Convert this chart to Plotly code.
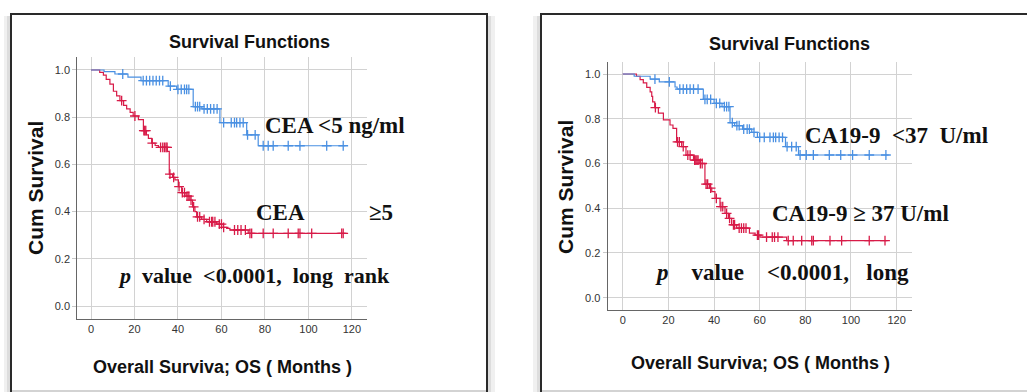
import numpy as np
import plotly.graph_objects as go

W, H = 1027, 392

# ---------------- data ----------------
# Left panel: CEA
cea_low_t = [0, 6, 11, 17, 23, 35.5, 39.4, 47, 51, 59.3, 71.6, 76.9]
cea_low_s = [1.0, 0.993, 0.983, 0.97, 0.955, 0.932, 0.918, 0.845, 0.835, 0.777, 0.725, 0.679]
cea_low_cens = [14.6, 24, 25.5, 27, 28.5, 30, 31.5, 33, 36.5, 40, 41.5, 43, 44, 45, 48, 49, 50,
                52, 53.5, 55, 56.5, 58, 61, 64.5, 66, 67, 68.5, 70, 72, 75.5,
                79.2, 81.5, 83.8, 90.7, 96.1, 108.4, 116]
cea_low_end = 117

cea_high_t = [0, 4, 5.7, 7, 8.7, 10.3, 11.8, 13.3, 15, 16.4, 18, 19.4, 21.8, 24.1, 25.5, 26.4,
              27.9, 29.5, 31, 35.1, 36, 37.5, 38.6, 40.2, 41.7, 43.7, 45.5, 46.7, 47.8, 48.6,
              50.9, 53.2, 57.8, 60.1, 62.4, 63.9, 72.3]
cea_high_s = [1.0, 0.99, 0.978, 0.96, 0.94, 0.91, 0.89, 0.87, 0.85, 0.835, 0.82, 0.805, 0.79,
              0.743, 0.725, 0.71, 0.69, 0.68, 0.672, 0.655, 0.559, 0.545, 0.534, 0.506, 0.48,
              0.466, 0.449, 0.42, 0.40, 0.378, 0.367, 0.357, 0.347, 0.333, 0.329, 0.322, 0.308]
cea_high_cens = [14.1, 20.2, 24.3, 24.7, 25.2, 28.2, 32, 33, 33.8, 34.5, 35, 36.3, 38, 40.5, 42,
                 43, 44.2, 45, 46, 47.2, 49, 50, 52, 54.5, 55.5, 56, 57, 59, 60, 61, 66, 67.5,
                 69, 71, 73.1, 73.9, 79.2, 83.8, 90.7, 95.3, 96.1, 101.5, 115.3, 116]
cea_high_end = 117

# Right panel: CA19-9
ca_low_t = [0, 5, 12, 16, 22.9, 23.8, 35.3, 40, 43.5, 47, 49, 52.5, 56.5, 59, 71.3, 77]
ca_low_s = [1.0, 0.99, 0.977, 0.965, 0.942, 0.932, 0.887, 0.869, 0.854, 0.782, 0.769, 0.754,
            0.739, 0.717, 0.675, 0.638]
ca_low_cens = [14.1, 20.4, 25, 26.5, 28, 29.5, 31, 33, 36, 37, 38.5, 41, 42.5, 44.5, 45.5, 46.5,
               48, 50, 51, 53, 54.5, 55.5, 57.5, 60, 62, 64.5, 66, 67, 68.5, 70, 72, 74, 76,
               77.7, 80.4, 83.5, 90.5, 95.5, 100.7, 108, 115.3]
ca_low_end = 116.5

ca_high_t = [0, 6, 7.6, 9, 10.5, 12, 12.7, 13.1, 14, 15.6, 17.8, 20.7, 22, 23.6, 25.8, 27.7, 31,
             33.5, 36, 38, 39, 40.4, 42.6, 44.8, 46.3, 47.7, 49.9, 55.5, 58, 60.1, 71.8]
ca_high_s = [1.0, 0.99, 0.975, 0.96, 0.94, 0.92, 0.90, 0.875, 0.85, 0.825, 0.795, 0.772, 0.757,
             0.697, 0.675, 0.637, 0.615, 0.6, 0.508, 0.49, 0.474, 0.444, 0.407, 0.377, 0.355,
             0.326, 0.311, 0.289, 0.28, 0.271, 0.255]
ca_high_cens = [14.3, 24, 24.8, 26.5, 28.5, 29.5, 31.5, 32, 32.5, 33, 34, 34.8, 36.5, 37.2, 38.5,
                41, 43, 43.8, 45.5, 46.8, 48.5, 49, 51, 52, 53, 54, 59, 59.5, 63, 65.5, 66.5,
                68, 72.5, 74.7, 78.4, 82.8, 83.5, 90.8, 95.9, 108, 114.9]
ca_high_end = 116

x_ticks = [0, 20, 40, 60, 80, 100, 120]
y_ticks = [0.0, 0.2, 0.4, 0.6, 0.8, 1.0]

BLUE = "#4a90e2"
RED = "#d81b48"

# ---------------- helpers ----------------
def px(x):
    return x / W

def py(y):
    return 1 - y / H

def step_at(times, surv, c):
    i = int(np.searchsorted(np.asarray(times), c, side="right")) - 1
    return surv[i]

fig = go.Figure()

def add_curve(t, s, cens, end, color, xa, ya):
    fig.add_trace(go.Scatter(x=list(t) + [end], y=list(s) + [s[-1]], mode="lines",
                             line=dict(color=color, width=1.2, shape="hv"),
                             xaxis=xa, yaxis=ya, showlegend=False, hoverinfo="skip"))
    fig.add_trace(go.Scatter(x=cens, y=[step_at(t, s, c) for c in cens], mode="markers",
                             marker=dict(symbol="cross-thin", size=7,
                                         line=dict(color=color, width=1.3)),
                             xaxis=xa, yaxis=ya, showlegend=False, hoverinfo="skip"))

add_curve(cea_high_t, cea_high_s, cea_high_cens, cea_high_end, RED, "x", "y")
add_curve(cea_low_t, cea_low_s, cea_low_cens, cea_low_end, BLUE, "x", "y")
add_curve(ca_high_t, ca_high_s, ca_high_cens, ca_high_end, RED, "x2", "y2")
add_curve(ca_low_t, ca_low_s, ca_low_cens, ca_low_end, BLUE, "x2", "y2")

SANS = "Liberation Sans, Arial, sans-serif"
SERIF = "Liberation Serif, Times New Roman, serif"

tickfont = dict(family=SANS, size=11, color="#333")
axis_common = dict(showgrid=True, gridcolor="#d2d2d2", gridwidth=1, showline=True,
                   linecolor="#666", linewidth=1.2, zeroline=False, tickfont=tickfont)
xaxis_common = dict(ticks="", **axis_common)
yaxis_common = dict(ticks="outside", ticklen=4, tickcolor="#c8c8c8", tickformat=".1f",
                    **axis_common)

fig.update_layout(
    width=W, height=H, margin=dict(l=0, r=0, t=0, b=0),
    paper_bgcolor="white", plot_bgcolor="white",
    xaxis=dict(domain=[px(77.3), px(366.7)], range=[-6.3, 126.8], tickvals=x_ticks,
               anchor="y", **xaxis_common),
    yaxis=dict(domain=[py(319), py(57)], range=[-0.055, 1.055], tickvals=y_ticks,
               anchor="x", **yaxis_common),
    xaxis2=dict(domain=[px(607.7), px(911.7)], range=[-6.6, 126.6], tickvals=x_ticks,
                anchor="y2", **xaxis_common),
    yaxis2=dict(domain=[py(310), py(61.7)], range=[-0.055, 1.055], tickvals=y_ticks,
                anchor="x2", **yaxis_common),
)

# ---------------- panel frames ----------------
shapes = []
for x0, x1 in [(4, 11), (487, 495), (533, 541)]:
    shapes.append(dict(type="rect", xref="paper", yref="paper", x0=px(x0), x1=px(x1),
                       y0=py(392), y1=py(16), fillcolor="rgba(0,0,0,0.06)", line=dict(width=0),
                       layer="below"))
for x0, x1 in [(7, 11), (487, 491), (537, 541)]:
    shapes.append(dict(type="rect", xref="paper", yref="paper", x0=px(x0), x1=px(x1),
                       y0=py(392), y1=py(16), fillcolor="rgba(0,0,0,0.08)", line=dict(width=0),
                       layer="below"))
shapes.append(dict(type="rect", xref="paper", yref="paper", x0=px(11), x1=px(487),
                   y0=py(400), y1=py(14), line=dict(color="#2a2a2a", width=2)))
shapes.append(dict(type="rect", xref="paper", yref="paper", x0=px(541), x1=px(1040),
                   y0=py(400), y1=py(14), line=dict(color="#2a2a2a", width=2)))
for x0, x1 in [(12, 486), (542, 1027)]:
    shapes.append(dict(type="line", xref="paper", yref="paper", x0=px(x0), x1=px(x1),
                       y0=py(391), y1=py(391), line=dict(color="#c4c4c4", width=1.5)))
fig.update_layout(shapes=shapes)

# ---------------- texts ----------------
NB = "\u00a0"

def ann(text, x, y, size, family, xanchor="center", angle=0, color="#111"):
    fig.add_annotation(text=text, xref="paper", yref="paper", x=px(x), y=py(y),
                       xanchor=xanchor, yanchor="middle", showarrow=False, textangle=angle,
                       font=dict(family=family, size=size, color=color))

# left panel
ann("<b>Survival Functions</b>", 249, 42, 18, SANS)
ann("<b>Cum Survival</b>", 35, 188, 21, SANS, angle=-90)
ann("<b>Overall Surviva; OS ( Months )</b>", 222, 367, 18, SANS)
ann("<b>CEA <5 ng/ml</b>", 263, 126, 23, SERIF, xanchor="left")
ann("<b>CEA</b>", 254, 212, 23, SERIF, xanchor="left")
ann("<b>≥5</b>", 367, 212, 23, SERIF, xanchor="left")
ann("<b><i>p</i>" + NB * 2 + "value" + NB * 2 + "<0.0001," + NB * 2 + "long" + NB * 2 + "rank</b>",
    116, 275, 22, SERIF, xanchor="left")

# right panel
ann("<b>Survival Functions</b>", 789, 44, 18, SANS)
ann("<b>Cum Survival</b>", 565, 187, 21, SANS, angle=-90)
ann("<b>Overall Surviva; OS ( Months )</b>", 760, 363, 18, SANS)
ann("<b>CA19-9" + NB * 2 + "<37" + NB * 2 + "U/ml</b>", 803, 135, 23, SERIF, xanchor="left")
ann("<b>CA19-9 ≥ 37 U/ml</b>", 770, 213, 23, SERIF, xanchor="left")
ann("<b><i>p</i>" + NB * 4 + "value" + NB * 4 + "<0.0001," + NB * 3 + "long</b>",
    653, 272, 23, SERIF, xanchor="left")

fig.write_html("out.html", config={"displayModeBar": False},
               post_script="document.body.style.margin='0';document.body.style.overflow='hidden';")
